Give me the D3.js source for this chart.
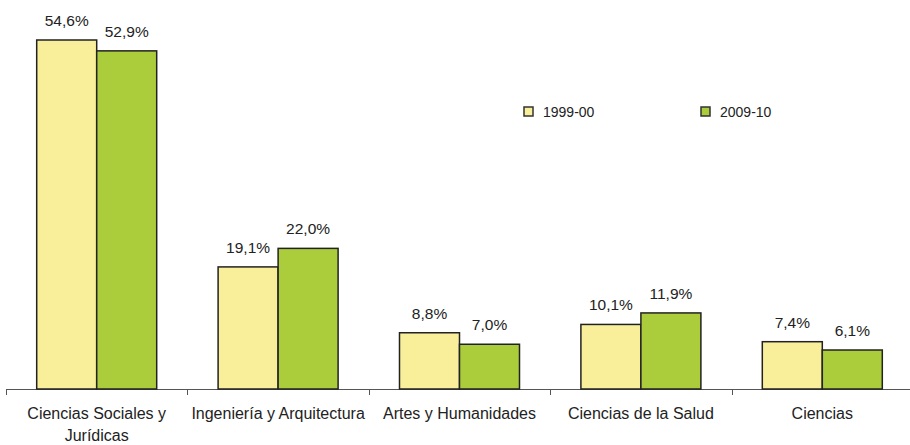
<!DOCTYPE html>
<html><head><meta charset="utf-8">
<script src="https://cdn.jsdelivr.net/npm/d3@7"></script>
<style>body{margin:0;background:#fff}svg{display:block}text{font-family:"Liberation Sans",Arial,sans-serif;fill:#222}</style>
</head><body><svg id="c" width="910" height="445"></svg>
<script>
const categories = [["Ciencias Sociales y","Jurídicas"],["Ingeniería y Arquitectura"],["Artes y Humanidades"],["Ciencias de la Salud"],["Ciencias"]];
const seriesNames = ["1999-00","2009-10"];
const values1999 = [54.6,19.1,8.8,10.1,7.4];
const values2009 = [52.9,22.0,7.0,11.9,6.1];
const colors = ["#F9EF9A","#ABCC3B"];

const svg = d3.select("#c");
const x0 = 6, x1 = 913, yBase = 389;
const x = d3.scaleBand().domain(d3.range(categories.length)).range([x0,x1]);
const y = d3.scaleLinear().domain([0,54.6]).range([yBase,40]);
const xs = d3.scaleBand().domain([0,1]).range([0,120]);
const fmt = v => d3.format(".1f")(v).replace(".",",")+"%";

// axis
svg.append("line").attr("x1",x0).attr("x2",x1).attr("y1",yBase+0.5).attr("y2",yBase+0.5).attr("stroke","#555").attr("stroke-width",1);
d3.range(categories.length+1).forEach(i=>{
  const xt = Math.round(x0 + i*x.bandwidth())+0.5;
  svg.append("line").attr("x1",xt).attr("x2",xt).attr("y1",yBase).attr("y2",yBase+6).attr("stroke","#555");
});

const series = [values1999, values2009];
series.forEach((vals,s)=>{
  const g = svg.append("g");
  g.selectAll("rect").data(vals).join("rect")
    .attr("x",(d,i)=>x(i)+x.bandwidth()/2-60+xs(s))
    .attr("y",d=>y(d))
    .attr("width",xs.bandwidth())
    .attr("height",d=>yBase-y(d))
    .attr("fill",colors[s]).attr("stroke","#222").attr("stroke-width",1.5);
  g.selectAll("text").data(vals).join("text")
    .attr("x",(d,i)=>x(i)+x.bandwidth()/2-60+xs(s)+xs.bandwidth()/2)
    .attr("y",d=>y(d)-14)
    .attr("text-anchor","middle").attr("font-size",15.5).text(fmt);
});

// category labels
categories.forEach((lines,i)=>{
  const t = svg.append("text").attr("x",x(i)+x.bandwidth()/2).attr("y",419).attr("text-anchor","middle").attr("font-size",16);
  lines.forEach((l,j)=>t.append("tspan").attr("x",x(i)+x.bandwidth()/2).attr("dy",j?22:0).text(l));
});

// legend
const legX = [524,701];
seriesNames.forEach((n,s)=>{
  svg.append("rect").attr("x",legX[s]).attr("y",107).attr("width",9).attr("height",9).attr("fill",colors[s]).attr("stroke","#333").attr("stroke-width",1.5);
  svg.append("text").attr("x",legX[s]+19).attr("y",117).attr("font-size",14).text(n);
});
</script></body></html>
